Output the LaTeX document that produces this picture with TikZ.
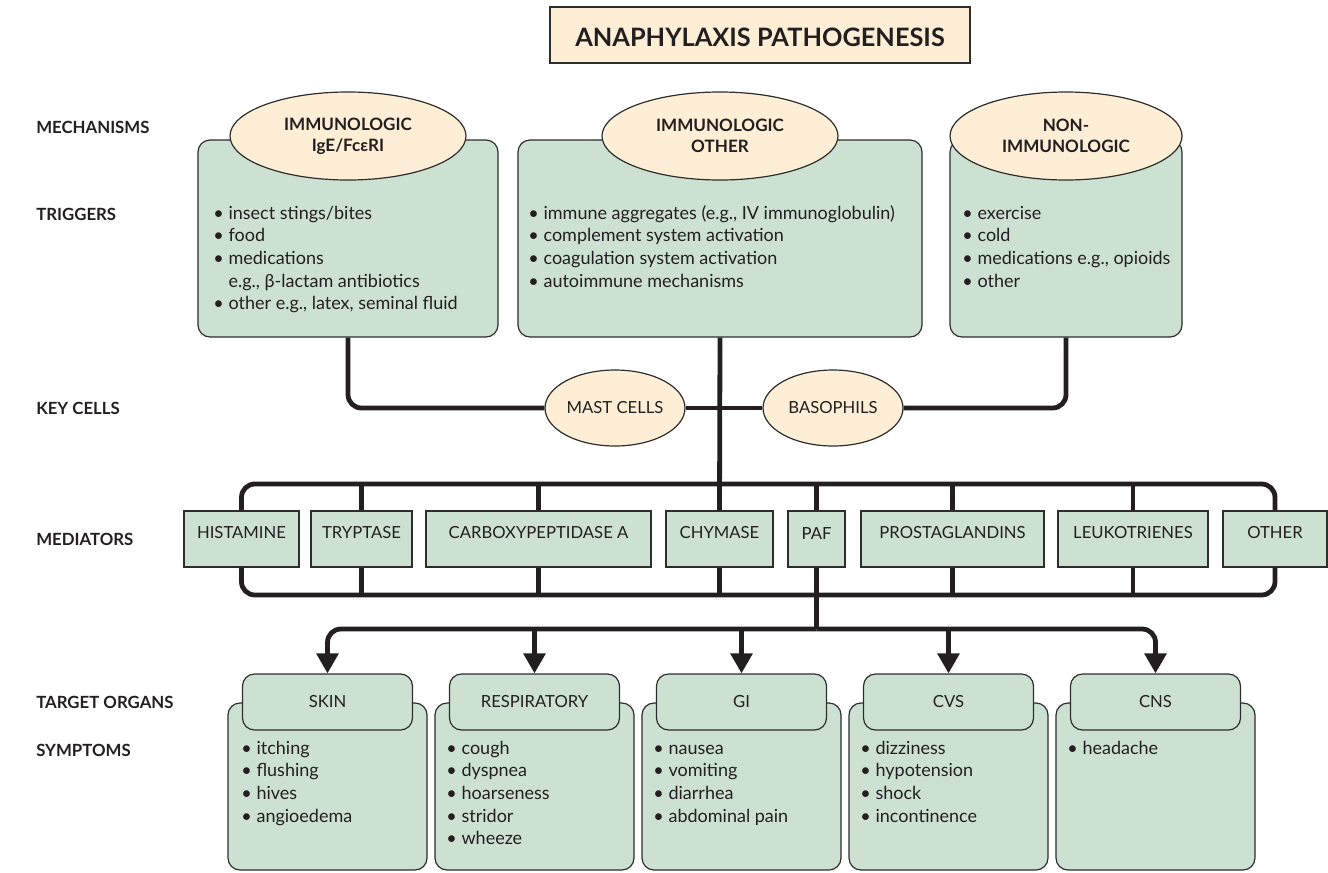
\documentclass[tikz,border=0pt]{standalone}
\usepackage{fontspec}
\setmainfont{Lato}
\usetikzlibrary{arrows.meta,shapes.geometric,fit}
\definecolor{grn}{RGB}{204,225,210}
\definecolor{pch}{RGB}{253,238,213}
\definecolor{edge}{RGB}{45,45,45}
\definecolor{ink}{RGB}{35,31,32}
\newcommand\itm{\makebox[0.85em][l]{\textbullet}}
\newcommand\ind{\hspace*{0.85em}}
\begin{document}
\begin{tikzpicture}[x=0.75pt,y=-0.75pt,
  every node/.style={text=ink, inner sep=0pt},
  body/.style={font=\fontsize{13.5}{17}\selectfont},
  lbl/.style={font=\fontsize{12.6}{15}\selectfont\bfseries, anchor=west},
  gbox/.style={draw=edge, line width=0.9pt, fill=grn, rounded corners=9pt, inner sep=0pt},
  mbox/.style={draw=edge, line width=0.9pt, fill=grn, inner sep=0pt, font=\fontsize{12.5}{15}\selectfont},
  pell/.style={ellipse, draw=edge, line width=0.9pt, fill=pch, inner sep=0pt, align=center},
  lst/.style={body, anchor=north west, align=left},
  conn/.style={draw=ink, line width=3.6pt},
  arr/.style={conn, -{Triangle[length=15pt,width=16pt]}}
]
\useasboundingbox (0,0) rectangle (1328,872);

% title
\node[fit={(550,7) (970,63)}, draw=edge, line width=0.9pt, fill=pch] (title) {};
\node[font=\fontsize{19}{22}\selectfont\bfseries] (titletext) at (760,37) {ANAPHYLAXIS PATHOGENESIS};

% left labels
\node[lbl] (lmech) at (36,127) {MECHANISMS};
\node[lbl] (ltrig) at (36,214) {TRIGGERS};
\node[lbl] (lkey) at (36,408) {KEY CELLS};
\node[lbl] (lmed) at (36,539) {MEDIATORS};
\node[lbl] (ltar) at (36,702) {TARGET ORGANS};
\node[lbl] (lsym) at (36,750) {SYMPTOMS};

% top boxes
\node[gbox, fit={(198,140) (498,337)}] (b1) {};
\node[gbox, fit={(518,140) (922,337)}] (b2) {};
\node[gbox, fit={(950,140) (1182,337)}] (b3) {};
\node[pell, minimum width=177pt, minimum height=66pt, font=\fontsize{12.8}{15.5}\selectfont\bfseries] (e1) at (348,136) {IMMUNOLOGIC\\IgE/FcεRI};
\node[pell, minimum width=177pt, minimum height=66pt, font=\fontsize{12.8}{15.5}\selectfont\bfseries] (e2) at (720,136) {IMMUNOLOGIC\\OTHER};
\node[pell, minimum width=174pt, minimum height=66pt, font=\fontsize{12.8}{15.5}\selectfont\bfseries] (e3) at (1066,136) {NON-\\IMMUNOLOGIC};

\node[lst] (t1) at (213,203) {\strut\itm insect stings/bites\\\itm food\\\itm medications\\\ind e.g., β-lactam antibiotics\\\itm other e.g., latex, seminal fluid};
\node[lst] (t2) at (528,203) {\strut\itm immune aggregates (e.g., IV immunoglobulin)\\\itm complement system activation\\\itm coagulation system activation\\\itm autoimmune mechanisms};
\node[lst] (t3) at (962,203) {\strut\itm exercise\\\itm cold\\\itm medications e.g., opioids\\\itm other};

% key cells
\node[pell, minimum width=105pt, minimum height=57pt, font=\fontsize{12.5}{15}\selectfont] (mast) at (615,408) {MAST CELLS};
\node[pell, minimum width=105pt, minimum height=57pt, font=\fontsize{12.5}{15}\selectfont] (baso) at (833,408) {BASOPHILS};

% mediators
\node[mbox, fit={(184,511) (299,567)}] (hist) {HISTAMINE};
\node[mbox, fit={(311,511) (412,567)}] (tryp) {TRYPTASE};
\node[mbox, fit={(426,511) (651,567)}] (carb) {CARBOXYPEPTIDASE A};
\node[mbox, fit={(666,511) (773,567)}] (chym) {CHYMASE};
\node[mbox, fit={(788,511) (845,567)}] (paf) {PAF};
\node[mbox, fit={(861,511) (1044,567)}] (prost) {PROSTAGLANDINS};
\node[mbox, fit={(1058,511) (1208,567)}] (leuk) {LEUKOTRIENES};
\node[mbox, fit={(1223,511) (1327,567)}] (oth) {OTHER};

\coordinate (tb) at (0,484);
\coordinate (bb) at (0,595);
\coordinate (db) at (0,629);

% target organs
\foreach \n/\t [count=\i from 0] in {skin/SKIN,resp/RESPIRATORY,gi/GI,cvs/CVS,cns/CNS}{
  \node[gbox, fit={({228+207*\i},703) ({427+207*\i},870)}] (\n O) {};
  \node[gbox, fit={({242.5+207*\i},674) ({412.5+207*\i},730)}] (\n H) {};
  \node[font=\fontsize{12.5}{15}\selectfont] (\n T) at (\n H.center) {\t};
}
\node[lst] (s1) at (241,738) {\strut\itm itching\\\itm flushing\\\itm hives\\\itm angioedema};
\node[lst] (s2) at (446,738) {\strut\itm cough\\\itm dyspnea\\\itm hoarseness\\\itm stridor\\\itm wheeze};
\node[lst] (s3) at (653,738) {\strut\itm nausea\\\itm vomiting\\\itm diarrhea\\\itm abdominal pain};
\node[lst] (s4) at (860,738) {\strut\itm dizziness\\\itm hypotension\\\itm shock\\\itm incontinence};
\node[lst] (s5) at (1067,738) {\strut\itm headache};

% connectors: key cells
\draw[conn, rounded corners=10pt] (b1.south) |- (mast.west);
\draw[conn, rounded corners=10pt] (b3.south) |- (baso.east);
\draw[conn] (mast.east) -- (baso.west);
\draw[conn] (b2.south) -- (chym.north);

% mediator buses
\draw[conn, rounded corners=10pt] (hist.north) -- (hist.north |- tb) -- (oth.north |- tb) -- (oth.north);
\draw[conn, rounded corners=10pt] (hist.south) -- (hist.south |- bb) -- (oth.south |- bb) -- (oth.south);
\foreach \m in {tryp,carb,paf,prost,leuk}{
  \draw[conn] (\m.north) -- (\m.north |- tb);
}
\foreach \m in {tryp,carb,chym,prost,leuk}{
  \draw[conn] (\m.south) -- (\m.south |- bb);
}
\coordinate (pd) at (paf.south |- db);
\draw[conn] (paf.south) -- (pd);
\draw[arr, rounded corners=10pt] (pd) -| (skinH.north);
\draw[arr, rounded corners=10pt] (pd) -| (cnsH.north);
\draw[arr] (respH.north |- db) -- (respH.north);
\draw[arr] (giH.north |- db) -- (giH.north);
\draw[arr] (cvsH.north |- db) -- (cvsH.north);
\end{tikzpicture}
\end{document}
